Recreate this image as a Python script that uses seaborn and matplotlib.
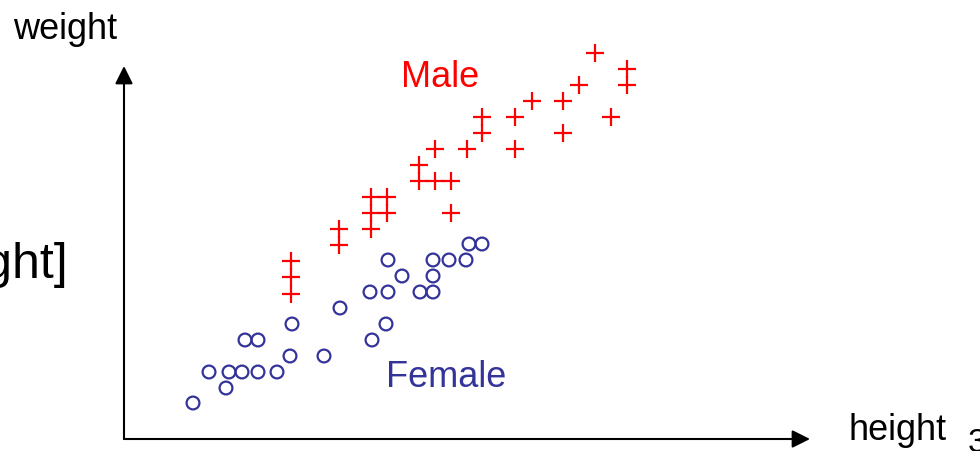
import numpy as np
import pandas as pd
import seaborn as sns
from matplotlib import pyplot as plt

# values (arbitrary units, origin at the axes corner)
female_height = [69, 102, 85, 105, 118, 134, 153, 166, 200, 121, 134, 168, 248, 262,
                 216, 246, 264, 296, 309, 278, 309, 264, 309, 325, 342, 345, 358]
female_weight = [36, 51, 67, 67, 67, 67, 67, 83, 83, 99, 99, 115, 99, 115,
                 131, 147, 147, 147, 147, 163, 163, 179, 179, 179, 179, 195, 195]

male_height = [167, 167, 167, 215, 215, 247, 247, 247, 263, 263, 295, 295, 311, 327, 327,
               311, 343, 358, 358, 391, 391, 408, 439, 439, 455, 471, 503, 503, 487]
male_weight = [178, 162, 145, 210, 194, 242, 226, 210, 242, 226, 274, 258, 258, 258, 226,
               290, 290, 322, 306, 322, 290, 338, 338, 306, 354, 386, 370, 354, 322]

male_color = "#ff0000"
female_color = "#333399"

df_f = pd.DataFrame({"height": female_height, "weight": female_weight, "sex": "Female"})
df_m = pd.DataFrame({"height": male_height, "weight": male_weight, "sex": "Male"})

sns.set_theme(style="white")
plt.rcParams["font.family"] = ["Liberation Sans", "DejaVu Sans"]

fig = plt.figure(figsize=(9.8, 4.52), dpi=100)
ax = fig.add_axes([0, 0, 1, 1])
ax.set_xlim(-124, 856)
ax.set_ylim(-12, 440)
ax.axis("off")

sns.scatterplot(data=df_f, x="height", y="weight", marker="o", s=85,
                facecolors="none", edgecolors=female_color, linewidth=1.6, ax=ax, zorder=3)
sns.scatterplot(data=df_m, x="height", y="weight", marker="+", s=150,
                color=male_color, linewidth=1.6, ax=ax, zorder=3)

# axes with arrow heads
arrow = dict(arrowstyle="-|>,head_length=1.08,head_width=0.54", mutation_scale=10,
             lw=1.5, color="black", shrinkA=0, shrinkB=0)
ax.annotate("", xy=(686, 0), xytext=(0, 0), arrowprops=arrow)
ax.annotate("", xy=(0, 373), xytext=(0, 0), arrowprops=arrow)

ax.text(-111, 401, "weight", fontsize=26, ha="left", va="baseline", color="black")
ax.text(724, 0, "height", fontsize=26, ha="left", va="baseline", color="black")
ax.text(316, 353, "Male", fontsize=26, ha="center", va="baseline", color=male_color)
ax.text(322, 53, "Female", fontsize=26, ha="center", va="baseline", color=female_color)
ax.text(-56, 162, "[height, weight]", fontsize=36, ha="right", va="baseline", color="black")
ax.text(844, 12, "3", fontsize=24, ha="left", va="top", color="black")

fig.savefig("out.png", dpi=100)
plt.close(fig)
